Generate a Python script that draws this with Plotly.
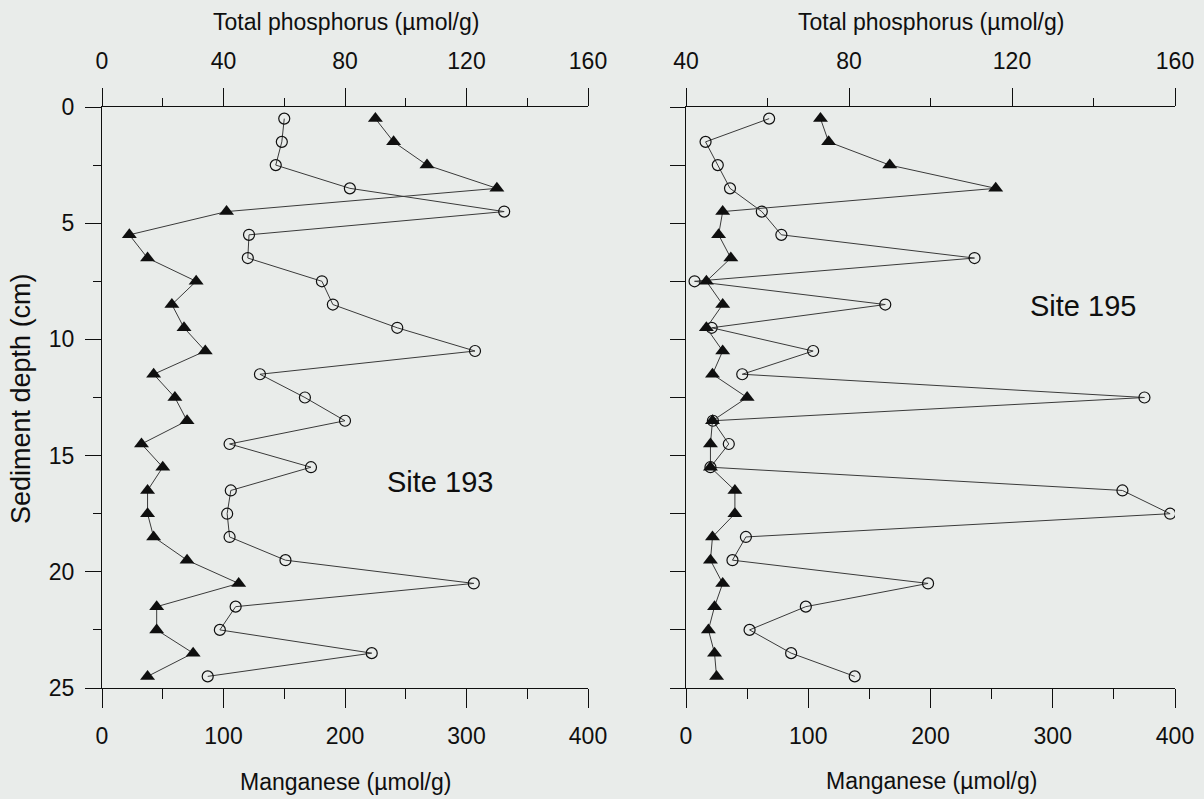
import plotly.graph_objects as go

# Sample depths (cm), one sample per 1-cm slice
depth = [0.5, 1.5, 2.5, 3.5, 4.5, 5.5, 6.5, 7.5, 8.5, 9.5, 10.5, 11.5, 12.5,
         13.5, 14.5, 15.5, 16.5, 17.5, 18.5, 19.5, 20.5, 21.5, 22.5, 23.5, 24.5]

# Site 193
mn_193 = [150, 148, 143, 204, 331, 121, 120, 181, 190, 243, 307, 130, 167,
          200, 105, 172, 106, 103, 105, 151, 306, 110, 97, 222, 87]
p_193 = [90, 96, 107, 130, 41, 9, 15, 31, 23, 27, 34, 17, 24,
         28, 13, 20, 15, 15, 17, 28, 45, 18, 18, 30, 15]

# Site 195
mn_195 = [68, 16, 26, 36, 62, 78, 236, 7, 163, 21, 104, 46, 375,
          22, 35, 20, 357, 396, 49, 38, 198, 98, 52, 86, 138]
p_195 = [73, 75, 90, 116, 49, 48, 51, 45, 49, 45, 49, 46.5, 55,
         46.5, 46, 46, 52, 52, 46.5, 46, 49, 47, 45.5, 47, 47.5]

W, H = 1204, 799
BG = "#e9ecea"
INK = "#0f0f0f"
LINE = "#3a3a3a"
FONT = "Liberation Sans, Arial, sans-serif"


def px(x):
    return x / W


def py(y):
    return 1 - y / H


left_dom = [px(102), px(588)]
right_dom = [px(686), px(1175)]
y_dom = [py(688), py(107)]

circle = dict(symbol="circle-open", size=11, color=INK, line=dict(width=1.2, color=INK))
tri = dict(symbol="triangle-up", size=13, color=INK, line=dict(width=0))

fig = go.Figure()
fig.add_trace(go.Scatter(x=mn_193, y=depth, xaxis="x", yaxis="y", mode="lines+markers",
                         line=dict(color=LINE, width=1), marker=circle, showlegend=False))
fig.add_trace(go.Scatter(x=p_193, y=depth, xaxis="x2", yaxis="y", mode="lines+markers",
                         line=dict(color=LINE, width=1), marker=tri, showlegend=False))
fig.add_trace(go.Scatter(x=mn_195, y=depth, xaxis="x3", yaxis="y2", mode="lines+markers",
                         line=dict(color=LINE, width=1), marker=circle, showlegend=False))
fig.add_trace(go.Scatter(x=p_195, y=depth, xaxis="x4", yaxis="y2", mode="lines+markers",
                         line=dict(color=LINE, width=1), marker=tri, showlegend=False))

tickfont = dict(family=FONT, size=23, color=INK)
common = dict(showgrid=False, zeroline=False, showline=True, linecolor=INK, linewidth=1.3,
              ticks="outside", tickcolor=INK, tickwidth=1.3, tickfont=tickfont,
              automargin=False, fixedrange=True)


def mn_axis(domain, anchor):
    return dict(common, domain=domain, anchor=anchor, side="bottom", range=[0, 400],
                tickmode="linear", tick0=0, dtick=100, ticklen=19, ticklabelstandoff=8,
                minor=dict(dtick=50, ticklen=10, tickcolor=INK, tickwidth=1.3, ticks="outside"))


def p_axis(overlay, anchor, lo):
    return dict(common, overlaying=overlay, anchor=anchor, side="top", range=[lo, 160],
                tickmode="linear", tick0=0, dtick=40, ticklen=18, ticklabelstandoff=10,
                minor=dict(dtick=20, ticklen=8, tickcolor=INK, tickwidth=1.3, ticks="outside"))


fig.update_layout(
    width=W, height=H,
    margin=dict(l=0, r=0, t=0, b=0),
    paper_bgcolor=BG, plot_bgcolor=BG,
    xaxis=mn_axis(left_dom, "y"),
    xaxis2=p_axis("x", "y", 0),
    xaxis3=mn_axis(right_dom, "y2"),
    xaxis4=p_axis("x3", "y2", 40),
    yaxis=dict(common, domain=y_dom, anchor="x", range=[25, 0], tickmode="linear",
               tick0=0, dtick=5, ticklen=16, ticklabelstandoff=6,
               minor=dict(dtick=2.5, ticklen=8, tickcolor=INK, tickwidth=1.3, ticks="outside")),
    yaxis2=dict(common, domain=y_dom, anchor="x3", range=[25, 0], tickmode="linear",
                tick0=0, dtick=2.5, ticklen=15, showticklabels=False),
)

title_font = dict(family=FONT, size=23, color=INK)
notes = [
    ("Total phosphorus (µmol/g)", 346, 22, 0),
    ("Total phosphorus (µmol/g)", 931, 22, 0),
    ("Manganese (µmol/g)", 345, 782, 0),
    ("Manganese (µmol/g)", 931, 781, 0),
    ("Sediment depth (cm)", 21, 399, -90),
]
for text, x, y, ang in notes:
    fig.add_annotation(text=text, x=px(x), y=py(y), xref="paper", yref="paper",
                       xanchor="center", yanchor="middle", showarrow=False,
                       textangle=ang, font=title_font if ang == 0 else dict(title_font, size=27))

site_font = dict(family=FONT, size=29, color=INK)
fig.add_annotation(text="Site 193", x=px(440), y=py(482), xref="paper", yref="paper",
                   xanchor="center", yanchor="middle", showarrow=False, font=site_font)
fig.add_annotation(text="Site 195", x=px(1083), y=py(306), xref="paper", yref="paper",
                   xanchor="center", yanchor="middle", showarrow=False, font=site_font)

fig.write_html("out.html")
